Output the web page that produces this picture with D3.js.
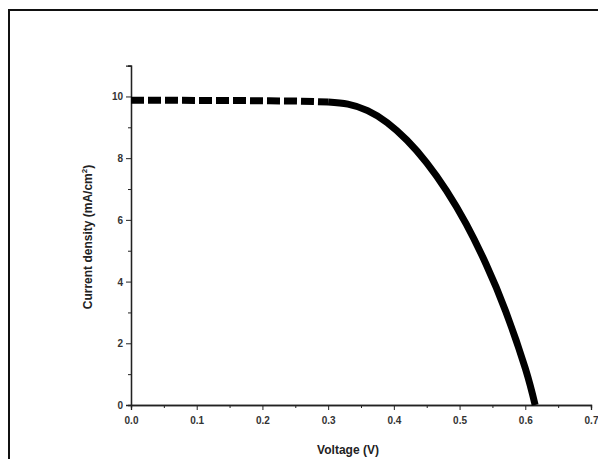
<!DOCTYPE html>
<html>
<head>
<meta charset="utf-8">
<script src="https://cdn.jsdelivr.net/npm/d3@7"></script>
<style>
  body { margin: 0; background: #fff; }
  svg { display: block; }
</style>
</head>
<body>
<script>
// J-V curve
const voltage = [0, 0.05, 0.1, 0.15, 0.2, 0.25, 0.3, 0.33, 0.36, 0.39, 0.42, 0.45, 0.48, 0.51, 0.54, 0.57, 0.6, 0.615];
const current = [9.88, 9.88, 9.87, 9.87, 9.86, 9.85, 9.82, 9.75, 9.54, 9.15, 8.58, 7.85, 6.95, 5.87, 4.58, 3.05, 1.19, 0];
const dashedUpTo = 0.3;

const xTicks = [0, 0.1, 0.2, 0.3, 0.4, 0.5, 0.6, 0.7];
const yTicks = [0, 2, 4, 6, 8, 10];

const width = 598, height = 459;

const svg = d3.select("body")
    .append("svg")
    .attr("width", width)
    .attr("height", height);

svg.append("rect")
    .attr("x", 9)
    .attr("y", 10)
    .attr("width", 620)
    .attr("height", 480)
    .attr("fill", "none")
    .attr("stroke", "#111")
    .attr("stroke-width", 2);

const x = d3.scaleLinear().domain([0, 0.7]).range([131, 591]);
const y = d3.scaleLinear().domain([0, 11]).range([405, 65.6]);

const data = voltage.map((v, i) => ({ v: v, j: current[i] }));

// axes
const xAxis = svg.append("g")
    .attr("transform", `translate(0,${y(0)})`)
    .call(d3.axisBottom(x).tickValues(xTicks).tickFormat(d3.format(".1f")).tickSize(5).tickPadding(7));
svg.append("g")
    .attr("transform", `translate(0,${y(0)})`)
    .call(d3.axisBottom(x).tickValues(d3.range(0.05, 0.7, 0.1)).tickFormat("").tickSize(3));

const yAxis = svg.append("g")
    .attr("transform", `translate(${x(0)},0)`)
    .call(d3.axisLeft(y).tickValues(yTicks).tickSize(5).tickPadding(3));
svg.append("g")
    .attr("transform", `translate(${x(0)},0)`)
    .call(d3.axisLeft(y).tickValues([1, 3, 5, 7, 9, 11]).tickFormat("").tickSize(3));

svg.selectAll(".domain").attr("stroke", "#222").attr("stroke-width", 1.3);
svg.selectAll(".tick line").attr("stroke", "#222").attr("stroke-width", 1);
svg.selectAll(".tick text")
    .attr("font-family", "Liberation Sans, Arial, sans-serif")
    .attr("font-size", "10px")
    .attr("font-weight", "bold")
    .attr("fill", "#333");
yAxis.selectAll(".tick text").attr("dy", "0.35em");

// axis titles
svg.append("text")
    .attr("x", 348)
    .attr("y", 454)
    .attr("text-anchor", "middle")
    .attr("font-family", "Liberation Sans, Arial, sans-serif")
    .attr("font-size", "12px")
    .attr("font-weight", "bold")
    .attr("fill", "#222")
    .text("Voltage (V)");

const yTitle = svg.append("text")
    .attr("transform", "translate(92,237) rotate(-90)")
    .attr("text-anchor", "middle")
    .attr("font-family", "Liberation Sans, Arial, sans-serif")
    .attr("font-size", "12px")
    .attr("font-weight", "bold")
    .attr("fill", "#222");
yTitle.append("tspan").text("Current density (mA/cm");
yTitle.append("tspan").attr("font-size", "8px").attr("dy", "-5").text("2");
yTitle.append("tspan").attr("dy", "5").text(")");

// curve: dashed where the points are sparse, solid where they crowd together
const flatLine = d3.line()
    .x(d => x(d.v))
    .y(d => y(d.j))
    .curve(d3.curveMonotoneX);

const kneeLine = d3.line()
    .x(d => x(d.v))
    .y(d => y(d.j))
    .curve(d3.curveNatural);

svg.append("path")
    .attr("d", flatLine(data.filter(d => d.v <= dashedUpTo)))
    .attr("fill", "none")
    .attr("stroke", "#000")
    .attr("stroke-width", 7)
    .attr("stroke-dasharray", "13,4");

svg.append("path")
    .attr("d", kneeLine(data.filter(d => d.v >= dashedUpTo)))
    .attr("fill", "none")
    .attr("stroke", "#000")
    .attr("stroke-width", 7);
</script>
</body>
</html>
